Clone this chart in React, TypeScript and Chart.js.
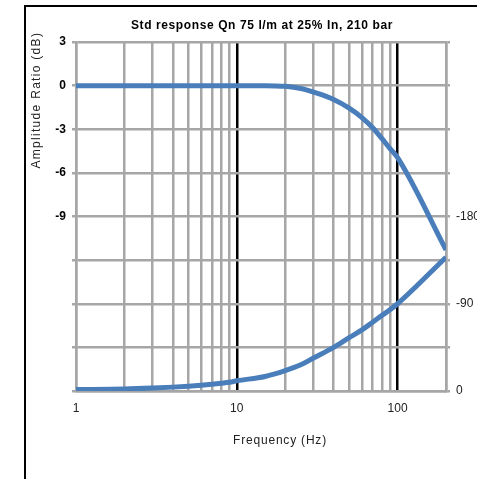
import React, { useEffect, useRef } from "react";
import { Chart, registerables } from "chart.js";

Chart.register(...registerables);

const TITLE = "Std response Qn 75 l/m at 25% In, 210 bar";
const Y_TITLE = "Amplitude Ratio (dB)";
const X_TITLE = "Frequency (Hz)";

const freqs = [1, 2, 3, 4, 5, 6, 7, 8, 9, 10, 15, 20, 25, 30, 40, 50, 60, 70, 80, 90, 100, 200];
const amplitudeDb = [0, 0, 0, 0, 0, 0, 0, 0, 0, 0, 0, -0.05, -0.2, -0.45, -0.95, -1.55, -2.2, -2.9, -3.65, -4.35, -4.95, -11.3];
const phaseDeg = [-1.5, -2, -3, -4, -5, -6, -7, -8, -9, -10.5, -15, -21, -27, -34, -45, -55, -63, -71, -78, -84, -90, -138];

const xGridTicks = [1, 2, 3, 4, 5, 6, 7, 8, 9, 10, 20, 30, 40, 50, 60, 70, 80, 90, 100, 200];
const xLabelTicks = [1, 10, 100];
const xMajorTicks = [10, 100];
const ampLabelTicks = [3, 0, -3, -6, -9];
const phaseLabelTicks = [0, -90, -180];

const GREY = "#a6a6a6";
const BLUE = "#4a7ebb";
const FONT = "'Liberation Sans', Arial, sans-serif";

const decorPlugin = {
  id: "decor",
  beforeDraw(chart: any) {
    const ctx = chart.ctx;
    ctx.save();
    ctx.strokeStyle = "#000";
    ctx.lineWidth = 2;
    ctx.beginPath();
    ctx.moveTo(25, chart.height);
    ctx.lineTo(25, 6);
    ctx.lineTo(chart.width, 6);
    ctx.stroke();
    ctx.restore();
  },
  afterDraw(chart: any) {
    const ctx = chart.ctx;
    const area = chart.chartArea;
    ctx.save();
    ctx.fillStyle = "#000";
    ctx.textAlign = "center";
    ctx.textBaseline = "middle";
    ctx.font = `bold 12px ${FONT}`;
    ctx.letterSpacing = "0.6px";
    ctx.fillText(TITLE, (area.left + area.right) / 2 + 1, 26);

    ctx.font = `12px ${FONT}`;
    ctx.fillStyle = "#222";
    ctx.letterSpacing = "0.8px";
    ctx.fillText(X_TITLE, 280, 441);

    const yScale = chart.scales.y;
    ctx.translate(37, yScale.getPixelForValue(-1));
    ctx.rotate(-Math.PI / 2);
    ctx.letterSpacing = "1.3px";
    ctx.fillText(Y_TITLE, 0, 0);
    ctx.restore();
  },
};

export default function App() {
  const ref = useRef<HTMLCanvasElement | null>(null);

  useEffect(() => {
    if (!ref.current) return;
    const chart = new Chart(ref.current, {
      type: "line",
      data: {
        datasets: [
          {
            label: "Amplitude",
            data: freqs.map((f, i) => ({ x: f, y: amplitudeDb[i] })),
            borderColor: BLUE,
            borderWidth: 5,
            pointRadius: 0,
            cubicInterpolationMode: "monotone",
            yAxisID: "y",
          },
          {
            label: "Phase",
            data: freqs.map((f, i) => ({ x: f, y: phaseDeg[i] })),
            borderColor: BLUE,
            borderWidth: 5,
            pointRadius: 0,
            cubicInterpolationMode: "monotone",
            yAxisID: "y2",
          },
        ],
      },
      options: {
        animation: false,
        responsive: false,
        maintainAspectRatio: false,
        layout: { padding: { top: 42, left: 0, right: 0, bottom: 0 } },
        plugins: { legend: { display: false }, tooltip: { enabled: false }, title: { display: false } },
        scales: {
          x: {
            type: "logarithmic",
            min: 1,
            max: 200,
            afterBuildTicks: (scale: any) => {
              scale.ticks = xGridTicks.map((v) => ({ value: v }));
            },
            afterFit: (scale: any) => {
              scale.height = 88;
            },
            ticks: {
              autoSkip: false,
              maxRotation: 0,
              padding: 10,
              color: "#222",
              font: { family: FONT, size: 12 },
              callback: (v: any) => (xLabelTicks.includes(Number(v)) ? String(v) : ""),
            },
            grid: {
              drawTicks: false,
              lineWidth: 2.5,
              color: (ctx: any) => (ctx.tick && xMajorTicks.includes(ctx.tick.value) ? "#000" : GREY),
            },
            border: { color: GREY, width: 2.5 },
          },
          y: {
            type: "linear",
            position: "left",
            min: -21,
            max: 3,
            afterFit: (scale: any) => {
              scale.width = 76;
            },
            ticks: {
              stepSize: 3,
              padding: 6,
              color: "#000",
              font: { family: FONT, size: 12, weight: "bold" },
              callback: (v: any) => (ampLabelTicks.includes(Number(v)) ? String(v) : ""),
            },
            grid: { color: GREY, lineWidth: 2.5, tickLength: 4 },
            border: { color: GREY, width: 2.5 },
          },
          y2: {
            type: "linear",
            position: "right",
            min: -360,
            max: 0,
            reverse: true,
            afterFit: (scale: any) => {
              scale.width = 31;
            },
            ticks: {
              stepSize: 45,
              padding: 6,
              color: "#222",
              font: { family: FONT, size: 12 },
              callback: (v: any) => (phaseLabelTicks.includes(Number(v)) ? String(v) : ""),
            },
            grid: { drawOnChartArea: false, color: GREY, lineWidth: 2.5, tickLength: 4 },
            border: { color: GREY, width: 2.5 },
          },
        },
      },
      plugins: [decorPlugin],
    } as any);
    return () => chart.destroy();
  }, []);

  return (
    <div style={{ position: "absolute", left: 0, top: 0, width: 477, height: 479, background: "#fff" }}>
      <canvas ref={ref} width={477} height={479} style={{ display: "block", width: 477, height: 479 }} />
    </div>
  );
}
